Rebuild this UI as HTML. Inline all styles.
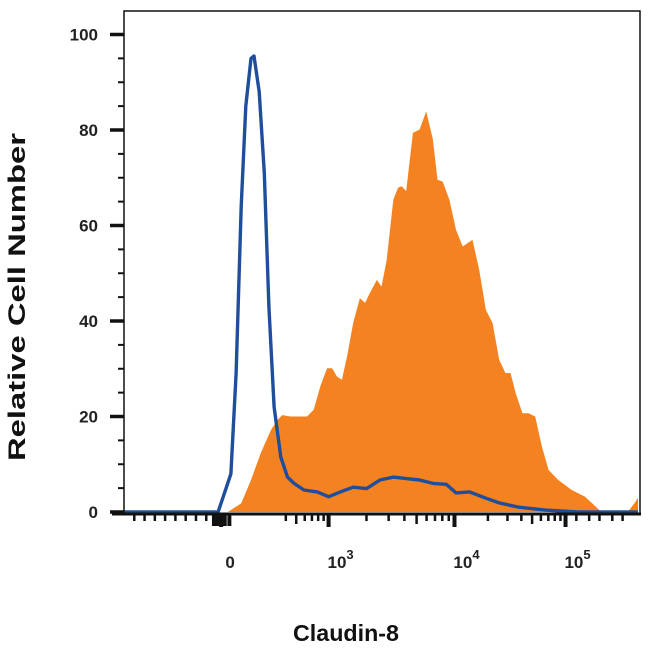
<!DOCTYPE html>
<html><head><meta charset="utf-8"><style>
html,body{margin:0;padding:0;background:#fff;}
svg{display:block;font-family:"Liberation Sans",sans-serif;}
</style></head><body>
<svg id="chart" width="650" height="650" viewBox="0 0 650 650" xmlns="http://www.w3.org/2000/svg">
<g id="plot"></g>
<text x="0" y="0" transform="translate(25,297) rotate(-90)" text-anchor="middle" font-size="24" font-weight="bold" fill="#111" textLength="328" lengthAdjust="spacingAndGlyphs">Relative Cell Number</text>
<text x="346" y="641" text-anchor="middle" font-size="23" font-weight="bold" fill="#111" textLength="106" lengthAdjust="spacingAndGlyphs">Claudin-8</text>
</svg>
<script>
// display channel units (0-1000 across plot width)
const blueX = [0,183,208,218,228,237,247,253,263,273,282,292,305,318,331,350,376,398,421,446,472,498,524,549,575,601,627,646,672,704,730,768,820,884,1000];
const blueY = [0,0,8,29,64,85,95,95.5,88,71,43,22,11.5,7.3,6,4.6,4.2,3.2,4.2,5.2,4.9,6.7,7.3,7,6.7,6,5.8,4,4.2,2.9,1.9,1,0.4,0,0];
const orangeX = [202,228,247,266,286,299,308,324,356,369,382,395,405,414,424,434,446,459,469,478,492,501,511,524,533,540,549,562,575,588,601,610,620,633,646,659,678,691,704,717,730,742,752,762,775,787,800,813,826,845,871,897,929,980,993,1000];
const orangeY = [0,1.8,6.7,12.3,17.2,19.3,20.3,20,20,21.4,26.3,30.1,30.1,28.4,27.7,32.6,39.6,44.8,43.8,45.8,48.6,47.2,52.8,65.4,67.9,68.2,67.2,79.4,80.1,83.9,78,69.6,69.2,65.4,59.1,55.6,57,50.7,42.3,39.6,31.9,29.1,29.1,24.9,20.7,20.7,20,13.7,8.8,6.7,4.6,3.2,0,0,1.8,3];
const yTickVals = [0,20,40,60,80,100];
const yTickLabels = ["0","20","40","60","80","100"];
const xMajorVals = [189,398,643,859];
const xMajorLabels = ["0","10","10","10"];
const xMajorExp = ["","3","4","5"];

const L=124,R=640,T=11,B0=512;
const xs = c => L + c*(R-L-2)/1000;
const ys = v => B0 - v*4.775;
const NS="http://www.w3.org/2000/svg";
const plot=document.getElementById('plot');
function mk(tag,attrs){const e=document.createElementNS(NS,tag);for(const k in attrs)e.setAttribute(k,attrs[k]);plot.appendChild(e);return e;}

let d=`M${xs(orangeX[0])},${ys(0)}`;
orangeX.forEach((c,i)=>{d+=` L${xs(c).toFixed(1)},${ys(orangeY[i]).toFixed(1)}`;});
d+=` L${xs(orangeX[orangeX.length-1])},${ys(0)} Z`;
const of=mk('path',{d:d,fill:'#f58220',stroke:'none'});



let bd='';
blueX.forEach((c,i)=>{bd+=(i?' L':'M')+xs(c).toFixed(1)+','+ys(blueY[i]).toFixed(1);});
const bl=mk('path',{d:bd,fill:'none',stroke:'#1f4e9c','stroke-width':3.4,'stroke-linejoin':'round'});



const fr=mk('path',{d:`M${L},${515} L${L},${T} L${R},${T} L${R},515`,fill:'none',stroke:'#111','stroke-width':1.5});


const xa=mk('line',{x1:L-12,y1:514,x2:R+1,y2:514,stroke:'#111','stroke-width':3});



yTickVals.forEach((v,i)=>{
  const y=ys(v);
  const t=mk('line',{x1:L-14,y1:y,x2:L,y2:y,stroke:'#111','stroke-width':3.5});
  
  
  const lb=mk('text',{x:98,y:y+6,'text-anchor':'end','font-size':17,'font-weight':'bold',fill:'#222'});
  lb.textContent=yTickLabels[i];
  
  
  if(v<100){for(let k=1;k<4;k++){const yy=ys(v+k*5);const m=mk('line',{x1:L-6,y1:yy,x2:L,y2:yy,stroke:'#111','stroke-width':2});
    
    }}
});

xMajorVals.forEach((c,i)=>{
  const x=xs(c);
  const t=mk('line',{x1:x,y1:514,x2:x,y2:527,stroke:'#111','stroke-width':4});
  
  
  const lb=mk('text',{x:x+(i===0?9:12),y:568,'text-anchor':'middle','font-size':17,'font-weight':'bold',fill:'#222'});
  lb.textContent=xMajorLabels[i];
  
  
  if(xMajorExp[i]){const s=document.createElementNS(NS,'tspan');s.setAttribute('dy','-9');s.setAttribute('font-size','13');s.textContent=xMajorExp[i];lb.appendChild(s);}
  if(i>0){const prev=xMajorVals[i-1];const w=c-prev;
    for(let k=2;k<10;k++){const cc=c-w+Math.log10(k)*w; if(i===1 && k<4) continue;
      const m=mk('line',{x1:xs(cc),y1:514,x2:xs(cc),y2:(k===5?524:521),stroke:'#111','stroke-width':2.5});
      
      }}
});
[880,905,925,950,970].concat([20,40,60,80,100,120,140,160,175,182,196,205]).forEach(c=>{
  const m=mk('line',{x1:xs(c),y1:514,x2:xs(c),y2:(c>170&&c<210?526:521),stroke:'#111','stroke-width':(c>170&&c<210?4:2.5)});
  
  
});
</script>
</body></html>
